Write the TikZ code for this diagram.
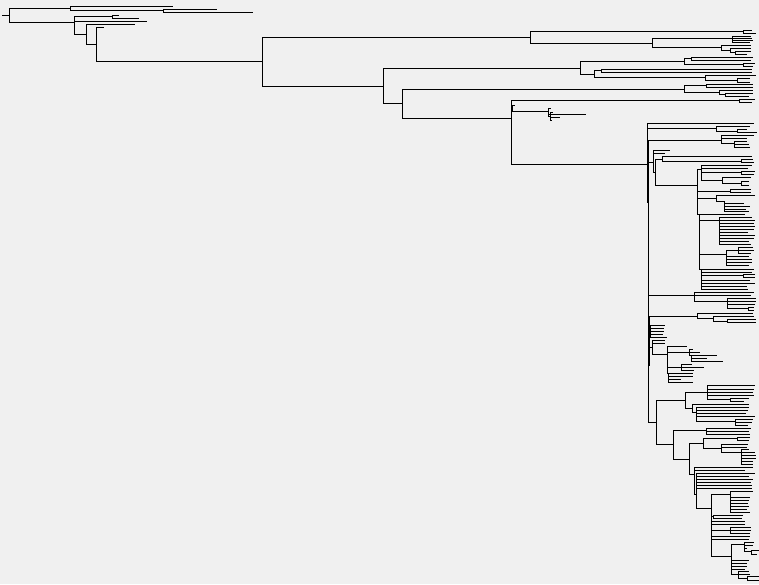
\documentclass[tikz,border=0pt]{standalone}
\definecolor{canvas}{RGB}{240,240,240}

\begin{document}
\begin{tikzpicture}[
    x=1pt, y=-1pt,
    branch/.style={draw=black, line width=1pt, line cap=rect}
]

% Canvas
\fill[canvas] (0,0) rectangle (759,584);

% Root and outgroup
\foreach \xa/\y/\xb in {2/15.3/9.3, 9.3/8/70, 70/6/172, 70/10.3/163, 163/9.3/216, 163/12.3/252,
    9.3/22.3/74, 74/16.3/112, 112/15.3/118, 112/18.3/138, 74/21.3/146, 74/34.3/86,
    86/24.3/134, 86/44.3/96, 96/27.3/103, 96/61.3/262.3}
  \draw[branch] (\xa,\y) -- (\xb,\y);
\foreach \x/\ya/\yb in {9.3/8/22.3, 70/6/10.3, 163/9.3/12.3, 74/16.3/34.3, 112/15.3/18.3,
    86/24.3/44.3, 96/27.3/61.3, 262.3/37.3/86.3}
  \draw[branch] (\x,\ya) -- (\x,\yb);

% Upper clade
\foreach \xa/\y/\xb in {262.3/37.3/530.3, 530.3/31.3/743.7, 743.7/30.3/751, 743.7/33.3/755,
    530.3/43.3/652.3, 652.3/38.3/732.3, 732.3/36.3/750, 732.3/38.3/751, 732.3/40.3/752,
    732.3/42.3/749, 652.3/47.3/721.3, 721.3/45.3/750, 721.3/50.3/730.3, 730.3/48.3/750,
    730.3/52.3/735.3, 735.3/51.3/750, 735.3/54.3/746}
  \draw[branch] (\xa,\y) -- (\xb,\y);
\foreach \x/\ya/\yb in {530.3/31.3/43.3, 743.7/30.3/33.3, 652.3/38.3/47.3, 732.3/36.3/42.3,
    721.3/45.3/50.3, 730.3/48.3/52.3, 735.3/51.3/54.3}
  \draw[branch] (\x,\ya) -- (\x,\yb);

% Middle clades
\foreach \xa/\y/\xb in {262.3/86.3/383.3, 383.3/68.3/580.3, 580.3/61.3/684.3, 684.3/58.3/691.3,
    691.3/57.3/752, 691.3/60.3/750, 684.3/64.3/743.3, 743.3/63.3/754, 743.3/66.3/752,
    580.3/74.3/594.3, 594.3/70.3/601.3, 601.3/69.3/751, 601.3/72.3/751, 594.3/77.3/705.3,
    705.3/75.3/755, 705.3/80.3/737.3, 737.3/78.3/749, 737.3/82.3/749,
    383.3/103.3/402.3, 402.3/89.3/684.3, 684.3/85.3/706.3, 706.3/84.3/752, 706.3/87.3/752,
    684.3/92.3/719.3, 719.3/90.3/752, 719.3/94.3/725.3, 725.3/93.3/752, 725.3/96.3/748,
    402.3/118.3/511.3, 511.3/100.3/739.3, 739.3/99.3/754, 739.3/102.3/751,
    511.3/108.3/512.3, 512.3/105.3/514, 512.3/111.3/548.3, 548.3/108.3/550,
    548.3/114.3/585.7, 548.3/116.3/550.3, 550.3/112.3/552, 550.3/117.3/559.7,
    550.3/120.3/551.5, 511.3/164.3/647.3}
  \draw[branch] (\xa,\y) -- (\xb,\y);
\foreach \x/\ya/\yb in {383.3/68.3/103.3, 580.3/61.3/74.3, 684.3/58.3/64.3, 691.3/57.3/60.3,
    743.3/63.3/66.3, 594.3/70.3/77.3, 601.3/69.3/72.3, 705.3/75.3/80.3, 737.3/78.3/82.3,
    402.3/89.3/118.3, 684.3/85.3/92.3, 706.3/84.3/87.3, 719.3/90.3/94.3, 725.3/93.3/96.3,
    511.3/100.3/164.3, 739.3/99.3/102.3, 512.3/105.3/111.3, 548.3/108.3/116.3,
    550.3/112.3/120.3}
  \draw[branch] (\x,\ya) -- (\x,\yb);

% Large clade, upper part
\foreach \xa/\y/\xb in {647.3/123/753.7, 647.3/128.3/716.3, 716.3/126.3/749.7, 716.3/131.3/737.3,
    737.3/129.3/746.7, 737.3/132.3/756.7, 647.3/140/721.3, 721.3/135.3/753.7,
    721.3/138.3/746.7, 721.3/143.3/734.3, 734.3/141.3/746.7, 734.3/144.3/748.7,
    734.3/147.3/749.7, 647.3/162.3/653.3, 653.3/150.3/669.7, 653.3/153.3/664.7,
    653.3/172.3/655.3, 655.3/159.3/662.3, 662.3/156.3/751.7, 662.3/161.3/741.3,
    741.3/159.3/752.7, 741.3/162.3/753.3, 655.3/185.3/697.3}
  \draw[branch] (\xa,\y) -- (\xb,\y);
\foreach \x/\ya/\yb in {647.3/123/202.7, 648.3/140/422, 649.3/316/365, 716.3/126.3/131.3,
    737.3/129.3/132.3, 721.3/135.3/143.3, 734.3/141.3/147.3, 653.3/150.3/172.3,
    655.3/159.3/185.3, 662.3/156.3/161.3, 741.3/159.3/162.3}
  \draw[branch] (\x,\ya) -- (\x,\yb);

% Ladder
\foreach \xa/\y/\xb in {697.3/169.3/701.3, 701.3/165.3/751.3, 701.3/168.3/747.3, 701.3/172.3/741.3,
    741.3/171.3/754.3, 741.3/174.3/753.3, 701.3/180.3/722.3, 722.3/177.3/750.3,
    722.3/183.3/741.3, 741.3/181.3/748.3, 741.3/185.3/748.3,
    697.3/191.3/730.3, 730.3/189.3/750.3, 730.3/192.3/750.3,
    697.3/198.3/716.3, 716.3/195.3/754.3, 716.3/201.3/724.3, 724.3/203.3/743.3,
    724.3/206.3/749.3, 724.3/209.3/745.3, 724.3/211.3/748.3, 697.3/214.3/744.3,
    699.3/220.3/719.3, 719.3/217.3/751.7, 719.3/223.3/753.3, 719.3/226.3/754.3,
    719.3/229.3/753.3, 719.3/232.3/747.3, 719.3/235.3/754.3, 719.3/238.3/753.3,
    719.3/241.3/748.3, 719.3/244.3/750.3, 719.3/220.3/754.3,
    699.3/254.3/726.3, 726.3/250.3/738.3, 738.3/247.3/752.3, 738.3/250.3/753.7,
    738.3/253.3/750.7, 726.3/256.3/748.3, 726.3/259.3/751.3, 726.3/262.3/751.3,
    726.3/265.3/748.3, 699.3/269.3/753.7, 701.3/272.3/751.7, 701.3/275.3/743.3,
    743.3/274.3/754.7, 743.3/277.3/754.7, 701.3/280.3/749.7, 701.3/283.3/754.7,
    701.3/286.3/746.7, 701.3/289.3/747.7}
  \draw[branch] (\xa,\y) -- (\xb,\y);
\foreach \x/\ya/\yb in {697.3/169.3/214.3, 699.3/214.3/269.3, 701.3/269.3/289.3, 701.3/165.3/180.3,
    741.3/171.3/174.3, 722.3/177.3/183.3, 741.3/181.3/185.3, 730.3/189.3/192.3,
    716.3/195.3/201.3, 724.3/201.3/211.3, 719.3/217.3/244.3, 726.3/250.3/265.3,
    738.3/247.3/253.3, 743.3/274.3/277.3}
  \draw[branch] (\x,\ya) -- (\x,\yb);

% Large clade, middle part
\foreach \xa/\y/\xb in {648.3/295.3/694.3, 694.3/292.3/753.3, 694.3/295.3/750.3, 694.3/301.3/727.3,
    727.3/298.3/755.3, 727.3/301.3/755.3, 727.3/304.3/754.3, 727.3/308.8/748.3,
    748.3/307.3/753.7, 748.3/310.3/753.7,
    648.3/316.3/697.3, 697.3/313.3/752.3, 697.3/318.3/713.3, 713.3/316.3/753.3,
    713.3/321.3/727.3, 727.3/319.3/755.3, 727.3/322.3/755.3,
    648.3/331.3/650.3, 650.3/325.3/664.7, 650.3/328.3/663.3, 650.3/331.3/663.3,
    650.3/334.3/662.7, 650.3/337.3/666.7, 648.3/347/652.3, 652.3/340.3/664.7,
    652.3/343.3/664.7, 652.3/354.3/667.3,
    667.3/346.3/686.7, 667.3/352.3/689.3, 689.3/349.3/692.3, 689.3/352.3/699,
    689.3/355.3/716, 691.3/358.3/706, 691.3/361.3/722, 667.3/367.3/681.3,
    681.3/364.3/691.7, 681.3/367.3/703.7, 681.3/370.3/693.3, 668.3/373.3/692.3,
    668.3/376.3/692.3, 668.3/379.3/680, 668.3/382.3/692.3}
  \draw[branch] (\xa,\y) -- (\xb,\y);
\foreach \x/\ya/\yb in {694.3/292.3/301.3, 727.3/298.3/308.8, 748.3/307.3/310.3,
    697.3/313.3/318.3, 713.3/316.3/321.3, 727.3/319.3/322.3, 650.3/325.3/337.3,
    652.3/340.3/354.3, 667.3/346.3/373.3, 668.3/373.3/382.3, 689.3/349.3/355.3,
    691.3/355.3/361.3, 681.3/364.3/370.3}
  \draw[branch] (\x,\ya) -- (\x,\yb);

% Large clade, lower part
\foreach \xa/\y/\xb in {648.3/422/656.3, 656.3/400.3/685.3, 685.3/392.3/707.3, 707.3/385.3/754.7,
    707.3/389.3/753.7, 707.3/392.3/752.7, 707.3/395.3/753.7, 707.3/399.3/730.3,
    730.3/398.3/748.7, 730.3/401.3/743.7, 685.3/408.3/692.3, 692.3/404.3/748.7,
    692.3/412.3/696.3, 696.3/407.3/748.7, 696.3/410.3/747.7, 696.3/413.3/745.7,
    696.3/416.3/754.7, 696.3/421.3/735.3, 735.3/419.3/752.7, 735.3/422.3/751.7,
    735.3/425.3/747.7,
    656.3/444.3/673.3, 673.3/430.3/706.3, 706.3/428.3/750.7, 706.3/431.3/748.7,
    706.3/434.3/749.7, 673.3/459.3/689.3, 689.3/443.3/703.3, 703.3/438.3/737.3,
    737.3/437.3/749.7, 737.3/440.3/748.7, 703.3/448.3/721.3, 721.3/444.3/747.7,
    721.3/447.3/746.7, 721.3/452.3/741.3, 741.3/449.3/748.7, 741.3/452.3/754.7,
    741.3/455.3/755.7, 741.3/458.3/755.7, 741.3/461.3/752.7, 741.3/464.3/752.7,
    689.3/474.3/694.3, 694.3/467.3/752.3, 694.3/470.3/744.3, 694.3/494.3/696.3,
    696.3/473.3/754.3, 696.3/476.3/748.3, 696.3/479.3/752.3, 696.3/482.3/750.3,
    696.3/485.3/751.3, 696.3/488.3/751.3, 696.3/508.3/711.3,
    711.3/494.3/730.3, 730.3/491.3/752.3, 730.3/497.3/749.3, 730.3/500.3/748.3,
    730.3/503.3/747.3, 730.3/506.3/748.3, 730.3/509.3/746.3, 730.3/512.3/749.3,
    711.3/516.8/713.3, 713.3/515.3/742.3, 713.3/518.3/741.3, 711.3/521.3/744.3,
    711.3/524.3/744.3, 711.3/530.3/730.3, 730.3/527.3/750.3, 730.3/530.3/750.3,
    730.3/533.3/749.3, 711.3/536.3/749.3, 711.3/539.3/748.3, 711.3/556.7/731.3,
    731.3/544.3/744.3, 744.3/542.3/753.3, 744.3/545.3/752.3, 744.3/548.3/746.7,
    744.3/551.3/751.3, 751.3/550.3/758.3, 751.3/554.3/756.3,
    731.3/560.3/748.3, 731.3/563.3/746.3, 731.3/566.3/746.3, 731.3/569.3/744.3,
    731.3/574.3/738.3, 738.3/571.3/748.3, 738.3/574.3/749.3, 738.3/578.3/747.3,
    747.3/576.3/758.3, 747.3/580.3/758.3}
  \draw[branch] (\xa,\y) -- (\xb,\y);
\foreach \x/\ya/\yb in {656.3/400.3/444.3, 685.3/392.3/408.3, 707.3/385.3/399.3, 730.3/398.3/401.3,
    692.3/404.3/412.3, 696.3/407.3/421.3, 735.3/419.3/425.3, 673.3/430.3/459.3,
    706.3/428.3/434.3, 689.3/443.3/474.3, 703.3/438.3/448.3, 737.3/437.3/440.3,
    721.3/444.3/452.3, 741.3/449.3/464.3, 694.3/467.3/494.3, 696.3/473.3/508.3,
    711.3/494.3/556.7, 730.3/491.3/512.3, 713.3/515.3/518.3, 730.3/527.3/533.3,
    731.3/544.3/574.3, 744.3/542.3/551.3, 751.3/550.3/554.3, 738.3/571.3/578.3,
    747.3/576.3/580.3}
  \draw[branch] (\x,\ya) -- (\x,\yb);

\end{tikzpicture}
\end{document}
